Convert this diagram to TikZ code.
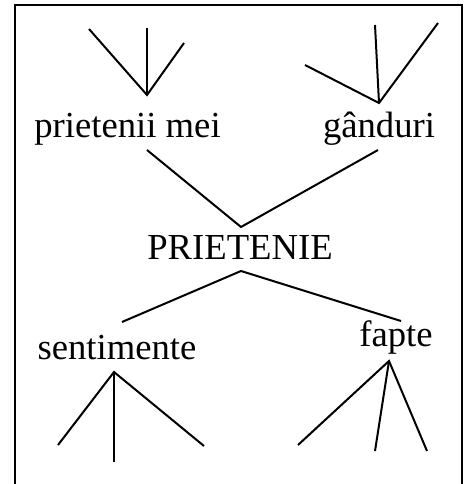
\documentclass[tikz,border=0pt]{standalone}
\usepackage{fontspec}
\setmainfont{Liberation Serif}
\begin{document}
\begin{tikzpicture}[
        x=0.75pt, y=-0.75pt,
        word/.style={anchor=base, inner sep=0pt, font=\fontsize{27.5}{30}\selectfont},
        branch/.style={line width=1.5pt}
    ]
    \useasboundingbox (0,0) rectangle (467,484);
    \draw[line width=1.5pt] (15,486) -- (15,5) -- (462,5) -- (462,486);

    % words
    \node[word] (friends) at (127.5,138) {prietenii mei};
    \node[word] (thoughts) at (379,138) {gânduri};
    \node[word] (friendship) at (240,259) {PRIETENIE};
    \node[word] (feelings) at (117,359) {sentimente};
    \node[word] (deeds) at (396,346) {fapte};

    % branch points
    \coordinate (friends-up) at (147,95);
    \coordinate (friends-dn) at (147,150);
    \coordinate (thoughts-up) at (379,103);
    \coordinate (thoughts-dn) at (378,150);
    \coordinate (friendship-up) at (241,227);
    \coordinate (friendship-dn) at (241,271);
    \coordinate (feelings-up) at (122,322);
    \coordinate (feelings-dn) at (114,372);
    \coordinate (deeds-up) at (401,321);
    \coordinate (deeds-dn) at (389,361);

    % free ends
    \coordinate (f1) at (89,29);
    \coordinate (f2) at (147,28);
    \coordinate (f3) at (184,43);
    \coordinate (t1) at (305,65);
    \coordinate (t2) at (375,25);
    \coordinate (t3) at (438,23);
    \coordinate (s1) at (58,445);
    \coordinate (s2) at (114,462);
    \coordinate (s3) at (204,446);
    \coordinate (d1) at (298,445);
    \coordinate (d2) at (375,451);
    \coordinate (d3) at (427,451);

    \draw[branch] (f1) -- (friends-up) -- (f3);
    \draw[branch] (f2) -- (friends-up);
    \draw[branch] (t1) -- (thoughts-up) -- (t3);
    \draw[branch] (t2) -- (thoughts-up);
    \draw[branch] (friends-dn) -- (friendship-up) -- (thoughts-dn);
    \draw[branch] (feelings-up) -- (friendship-dn) -- (deeds-up);
    \draw[branch] (s1) -- (feelings-dn) -- (s3);
    \draw[branch] (s2) -- (feelings-dn);
    \draw[branch] (d1) -- (deeds-dn) -- (d3);
    \draw[branch] (d2) -- (deeds-dn);
\end{tikzpicture}
\end{document}
